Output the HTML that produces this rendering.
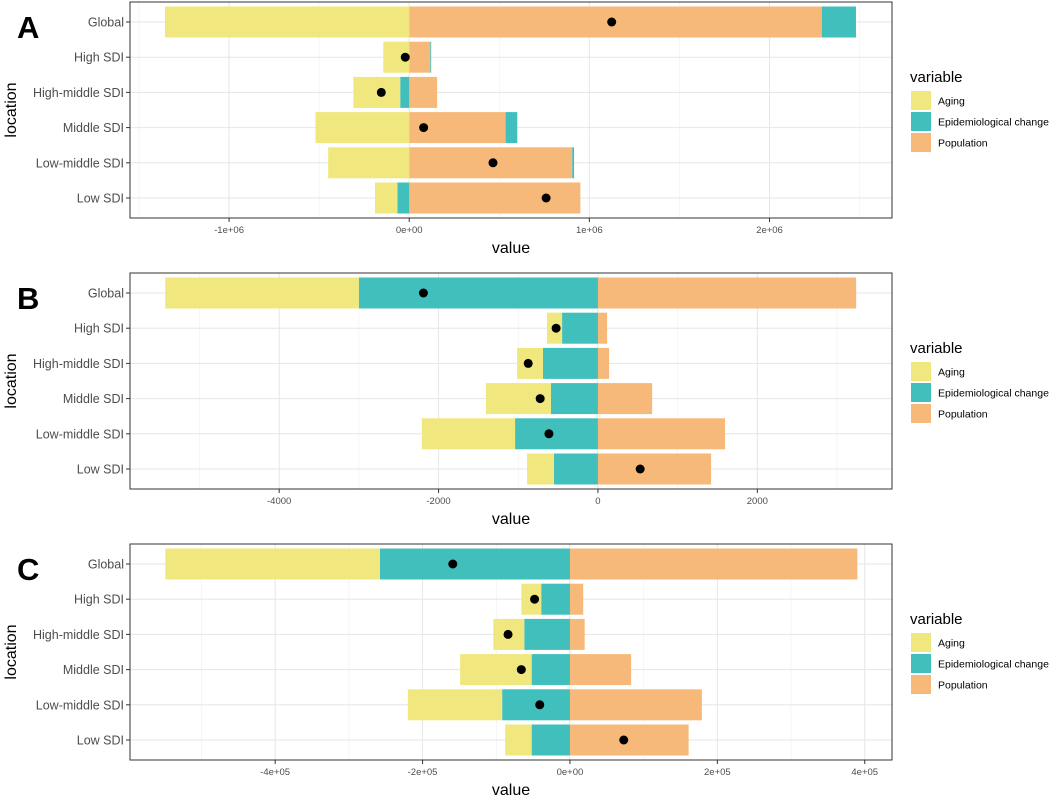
<!DOCTYPE html>
<html><head><meta charset="utf-8">
<style>
body{margin:0;background:#fff;}
svg{display:block;font-family:"Liberation Sans",sans-serif;}
</style></head>
<body>
<svg id="chart" width="1052" height="795" viewBox="0 0 1052 795" xmlns="http://www.w3.org/2000/svg"></svg>
<script>
const categories = ["Global","High SDI","High-middle SDI","Middle SDI","Low-middle SDI","Low SDI"];
const seriesNames = ["Aging","Epidemiological change","Population"];
// Panel A (values)
const agingA = [-1356000,-144000,-260000,-520000,-450000,-125000];
const epiA   = [190000,5000,-50000,65000,10000,-65000];
const popA   = [2290000,117000,155000,535000,905000,950000];
const ticksA = [-1000000,0,1000000,2000000];
const tickLabelsA = ["-1e+06","0e+00","1e+06","2e+06"];
// Panel B
const agingB = [-2430,-190,-325,-815,-1170,-338];
const epiB   = [-3000,-450,-690,-590,-1040,-552];
const popB   = [3240,115,140,680,1595,1420];
const ticksB = [-4000,-2000,0,2000];
const tickLabelsB = ["-4000","-2000","0","2000"];
// Panel C
const agingC = [-291000,-27000,-42000,-97000,-128000,-36000];
const epiC   = [-258000,-39000,-62000,-52000,-92000,-52000];
const popC   = [390000,18000,20000,83000,179000,161000];
const ticksC = [-400000,-200000,0,200000,400000];
const tickLabelsC = ["-4e+05","-2e+05","0e+00","2e+05","4e+05"];

const colors = {"Aging":"#F0E87E","Epidemiological change":"#40BFBD","Population":"#F6B979"};
const NS="http://www.w3.org/2000/svg";
const svg=document.getElementById('chart');
function mk(tag,attrs,parent){const e=document.createElementNS(NS,tag);for(const k in attrs)e.setAttribute(k,attrs[k]);(parent||svg).appendChild(e);return e;}

function panel(letter,top,domain,aging,epi,pop,ticks,tickLabels){
  const L=130,R=892,T=top,B=top+216;
  const g=mk('g',{});
  
  
  const x=v=>L+(v-domain[0])/(domain[1]-domain[0])*(R-L);
  const rowStep=35.2;
  const y=i=>T+20+rowStep*i;
  mk('rect',{x:L,y:T,width:R-L,height:B-T,fill:'#fff'},g);
  for(let i=0;i<ticks.length-1;i++){
    const m=(ticks[i]+ticks[i+1])/2;
    mk('line',{x1:x(m),x2:x(m),y1:T,y2:B,stroke:'#f0f0f0','stroke-width':0.6},g);
  }
  const m0=ticks[0]-(ticks[1]-ticks[0])/2, m1=ticks[ticks.length-1]+(ticks[1]-ticks[0])/2;
  [m0,m1].forEach(m=>{if(x(m)>L&&x(m)<R)mk('line',{x1:x(m),x2:x(m),y1:T,y2:B,stroke:'#f0f0f0','stroke-width':0.6},g);});
  ticks.forEach((t,i)=>{
    mk('line',{x1:x(t),x2:x(t),y1:T,y2:B,stroke:'#e6e6e6','stroke-width':1},g);
    mk('line',{x1:x(t),x2:x(t),y1:B,y2:B+4,stroke:'#333','stroke-width':1},g);
    const tl=mk('text',{x:x(t),y:B+15,'font-size':9.5,fill:'#4d4d4d','text-anchor':'middle'},g);
    tl.textContent=tickLabels[i];
    
    
  });
  const bh=31;
  categories.forEach((c,i)=>{
    const yc=y(i);
    mk('line',{x1:L,x2:R,y1:yc,y2:yc,stroke:'#e6e6e6','stroke-width':1},g);
    mk('line',{x1:L-4,x2:L,y1:yc,y2:yc,stroke:'#333','stroke-width':1},g);
    const tl=mk('text',{x:L-6,y:yc+4.5,'font-size':12.5,fill:'#4d4d4d','text-anchor':'end'},g);
    tl.textContent=c;
    
    
  });
  categories.forEach((c,i)=>{
    const vals={"Population":pop[i],"Epidemiological change":epi[i],"Aging":aging[i]};
    let pos=0,neg=0;
    ["Population","Epidemiological change","Aging"].forEach(s=>{
      const v=vals[s];let a,b;
      if(v>=0){a=pos;b=pos+v;pos=b;}else{a=neg;b=neg+v;neg=b;}
      const r=mk('rect',{x:Math.min(x(a),x(b)),y:y(i)-bh/2,width:Math.abs(x(b)-x(a)),height:bh,fill:colors[s]},g);
      
      
    });
    const total=pop[i]+epi[i]+aging[i];
    const d=mk('circle',{cx:x(total),cy:y(i),r:4.5,fill:'#000'},g);
    
    
  });
  mk('rect',{x:L,y:T,width:R-L,height:B-T,fill:'none',stroke:'#333','stroke-width':1},g);
  const xt=mk('text',{x:(L+R)/2,y:B+35,'font-size':16,fill:'#000','text-anchor':'middle'},g);
  xt.textContent='value';
  
  
  const yt=mk('text',{x:0,y:0,'font-size':16,fill:'#000','text-anchor':'middle',transform:`translate(16,${(T+B)/2}) rotate(-90)`},g);
  yt.textContent='location';
  
  
  const lt=mk('text',{x:17,y:T+36,'font-size':31,'font-weight':'bold',fill:'#000'},g);
  lt.textContent=letter;
  
  
  const cy=(T+B)/2;
  const lg=mk('g',{},g);
  
  
  const ttl=mk('text',{x:910,y:cy-28,'font-size':15,fill:'#000'},lg);
  ttl.textContent='variable';
  
  
  seriesNames.forEach((s,k)=>{
    const ky=cy-19+k*21;
    const kr=mk('rect',{x:911,y:ky,width:20,height:19,fill:colors[s]},lg);
    
    
    const kt=mk('text',{x:938,y:ky+13.5,'font-size':10.5,fill:'#000'},lg);
    kt.textContent=s;
    
    
  });
}
panel('A',2,[-1550000,2680000],agingA,epiA,popA,ticksA,tickLabelsA);
panel('B',273,[-5872,3690],agingB,epiB,popB,ticksB,tickLabelsB);
panel('C',544,[-597000,437000],agingC,epiC,popC,ticksC,tickLabelsC);
</script>
</body></html>
